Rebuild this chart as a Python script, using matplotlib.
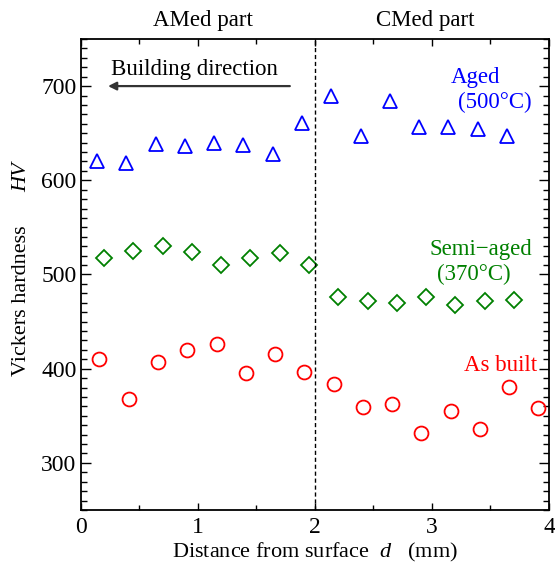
import matplotlib
matplotlib.use("Agg")
import matplotlib.pyplot as plt
from matplotlib.ticker import MultipleLocator

plt.rcParams["font.family"] = ["Liberation Serif", "DejaVu Serif"]
plt.rcParams["mathtext.fontset"] = "custom"
plt.rcParams["mathtext.rm"] = "Liberation Serif"
plt.rcParams["mathtext.it"] = "Liberation Serif:italic"

# data
d_aged = [0.14, 0.39, 0.64, 0.89, 1.14, 1.39, 1.64, 1.89,
          2.14, 2.39, 2.64, 2.89, 3.14, 3.39, 3.64]
hv_aged = [620, 618, 638, 636, 640, 637, 628, 661,
           690, 647, 684, 657, 657, 654, 647]

d_semi = [0.20, 0.45, 0.70, 0.95, 1.20, 1.45, 1.70, 1.95,
          2.20, 2.45, 2.70, 2.95, 3.20, 3.45, 3.70]
hv_semi = [517, 525, 530, 524, 510, 518, 523, 510,
           476, 472, 470, 476, 468, 472, 473]

d_built = [0.16, 0.41, 0.66, 0.91, 1.16, 1.41, 1.66, 1.91,
           2.16, 2.41, 2.66, 2.91, 3.16, 3.41, 3.66, 3.91]
hv_built = [410, 368, 407, 420, 426, 395, 416, 397,
            384, 359, 362, 332, 355, 336, 381, 358]

boundary = 2.0

fig = plt.figure(figsize=(5.55, 5.70), dpi=100)
ax = fig.add_axes([0.1454, 0.1053, 0.8438, 0.8263])

ax.plot(d_aged, hv_aged, ls="none", marker="^", ms=10, mfc="none",
        mec="#0000ff", mew=1.3, clip_on=False)
ax.plot(d_semi, hv_semi, ls="none", marker="D", ms=8, mfc="none",
        mec="#008000", mew=1.3, clip_on=False)
ax.plot(d_built, hv_built, ls="none", marker="o", ms=10, mfc="none",
        mec="#ff0000", mew=1.3, clip_on=False)

ax.axvline(boundary, color="black", lw=1.0, ls=(0, (3, 2)))

ax.set_xlim(0, 4)
ax.set_ylim(250, 750)
ax.xaxis.set_major_locator(MultipleLocator(1))
ax.xaxis.set_minor_locator(MultipleLocator(0.5))
ax.yaxis.set_major_locator(MultipleLocator(100))
ax.yaxis.set_minor_locator(MultipleLocator(10))
ax.set_yticks([300, 400, 500, 600, 700])

ax.tick_params(axis="both", which="both", direction="in", top=True, right=True,
               labelsize=17, width=1.0)
ax.tick_params(axis="y", which="major", length=7, pad=3)
ax.tick_params(axis="y", which="minor", length=4)
ax.tick_params(axis="x", which="major", length=5, pad=5)
ax.tick_params(axis="x", which="minor", length=3.5)
for s in ax.spines.values():
    s.set_linewidth(1.3)

ax.set_xlabel(r"Distance from surface  $d$   (mm)", fontsize=16, labelpad=2)

fig.text(0.039, 0.472, "Vickers hardness", rotation=90, fontsize=16,
         ha="center", va="center")
fig.text(0.039, 0.689, "HV", rotation=90, fontsize=16, style="italic",
         ha="center", va="center")

ax.annotate("", xy=(0.21, 700), xytext=(1.81, 700),
            arrowprops=dict(arrowstyle="-|>", color="#333333", lw=1.6,
                            mutation_scale=12))
ax.text(0.97, 718, "Building direction", fontsize=16.5, ha="center", va="center")

ax.text(1.04, 770, "AMed part", fontsize=16.5, ha="center", va="center", clip_on=False)
ax.text(2.94, 770, "CMed part", fontsize=16.5, ha="center", va="center", clip_on=False)

ax.text(3.16, 709, "Aged", fontsize=16.5, color="#0000ff", ha="left", va="center")
ax.text(3.22, 683, "(500°C)", fontsize=16.5, color="#0000ff", ha="left", va="center")
ax.text(2.98, 526, "Semi\u2212aged", fontsize=16.5, color="#008000", ha="left", va="center")
ax.text(3.04, 500, "(370°C)", fontsize=16.5, color="#008000", ha="left", va="center")
ax.text(3.27, 403, "As built", fontsize=16.5, color="#ff0000", ha="left", va="center")

fig.savefig("out.png", dpi=100)
